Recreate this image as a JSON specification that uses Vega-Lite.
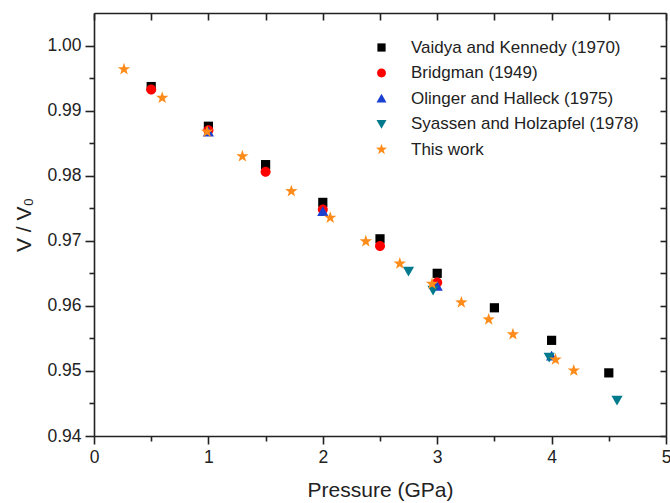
{
  "$schema": "https://vega.github.io/schema/vega-lite/v6.json",
  "width": 572,
  "height": 423,
  "autosize": {"type": "none"},
  "padding": {"left": 94, "top": 13, "right": 4, "bottom": 67},
  "background": "white",
  "config": {
    "view": {"stroke": null},
    "font": "Liberation Sans",
    "axis": {"grid": false, "domainColor": "#222", "domainWidth": 1.6, "tickColor": "#222", "tickWidth": 1.6, "labelColor": "#222", "titleColor": "#222", "labelFont": "Liberation Sans", "titleFont": "Liberation Sans", "labelFontSize": 17.5, "titleFontSize": 21, "titleFontWeight": "normal"}
  },
  "data": {"values": [
    {"src": "Vaidya and Kennedy (1970)", "p": 0.5, "v": 0.9937},
    {"src": "Vaidya and Kennedy (1970)", "p": 1.0, "v": 0.9876},
    {"src": "Vaidya and Kennedy (1970)", "p": 1.5, "v": 0.9817},
    {"src": "Vaidya and Kennedy (1970)", "p": 2.0, "v": 0.9759},
    {"src": "Vaidya and Kennedy (1970)", "p": 2.5, "v": 0.9703},
    {"src": "Vaidya and Kennedy (1970)", "p": 3.0, "v": 0.9650},
    {"src": "Vaidya and Kennedy (1970)", "p": 3.5, "v": 0.9597},
    {"src": "Vaidya and Kennedy (1970)", "p": 4.0, "v": 0.9547},
    {"src": "Vaidya and Kennedy (1970)", "p": 4.5, "v": 0.9497},
    {"src": "Bridgman (1949)", "p": 0.5, "v": 0.99325},
    {"src": "Bridgman (1949)", "p": 1.0, "v": 0.9870},
    {"src": "Bridgman (1949)", "p": 1.5, "v": 0.9806},
    {"src": "Bridgman (1949)", "p": 2.0, "v": 0.9748},
    {"src": "Bridgman (1949)", "p": 2.5, "v": 0.9692},
    {"src": "Bridgman (1949)", "p": 3.0, "v": 0.9636},
    {"src": "Olinger and Halleck (1975)", "p": 1.0, "v": 0.9867},
    {"src": "Olinger and Halleck (1975)", "p": 2.0, "v": 0.9745},
    {"src": "Olinger and Halleck (1975)", "p": 3.0, "v": 0.9630},
    {"src": "Olinger and Halleck (1975)", "p": 4.0, "v": 0.9523},
    {"src": "Syassen and Holzapfel (1978)", "p": 2.749, "v": 0.9653},
    {"src": "Syassen and Holzapfel (1978)", "p": 2.964, "v": 0.9624},
    {"src": "Syassen and Holzapfel (1978)", "p": 3.979, "v": 0.9521},
    {"src": "Syassen and Holzapfel (1978)", "p": 4.572, "v": 0.9455},
    {"src": "This work", "p": 0.262, "v": 0.99636},
    {"src": "This work", "p": 0.596, "v": 0.99196},
    {"src": "This work", "p": 0.989, "v": 0.98676},
    {"src": "This work", "p": 1.297, "v": 0.98298},
    {"src": "This work", "p": 1.725, "v": 0.97762},
    {"src": "This work", "p": 2.065, "v": 0.97354},
    {"src": "This work", "p": 2.376, "v": 0.96991},
    {"src": "This work", "p": 2.673, "v": 0.96649},
    {"src": "This work", "p": 2.955, "v": 0.96338},
    {"src": "This work", "p": 3.211, "v": 0.96052},
    {"src": "This work", "p": 3.450, "v": 0.95792},
    {"src": "This work", "p": 3.662, "v": 0.95562},
    {"src": "This work", "p": 4.034, "v": 0.95174},
    {"src": "This work", "p": 4.194, "v": 0.95006}
  ]},
  "layer": [
    {
      "mark": {"type": "point", "filled": true, "opacity": 1, "strokeWidth": 0, "size": 100},
      "encoding": {
        "x": {"field": "p", "type": "quantitative", "scale": {"domain": [0, 5], "nice": false, "zero": false},
          "axis": {"orient": "bottom", "title": "Pressure (GPa)", "values": [0, 0.5, 1, 1.5, 2, 2.5, 3, 3.5, 4, 4.5, 5],
            "labelExpr": "datum.value % 1 == 0 ? format(datum.value, 'd') : ''",
            "tickSize": {"condition": {"test": "datum.value % 1 == 0", "value": 8}, "value": 5},
            "labelPadding": 4, "titlePadding": 14, "labelFlush": false}},
        "y": {"field": "v", "type": "quantitative", "scale": {"domain": [0.94, 1.005], "nice": false, "zero": false},
          "axis": {"orient": "left", "title": "V / V₀", "values": [0.94, 0.945, 0.95, 0.955, 0.96, 0.965, 0.97, 0.975, 0.98, 0.985, 0.99, 0.995, 1.0],
            "labelExpr": "round(datum.value * 1000) % 10 == 0 ? format(datum.value, '.2f') : ''",
            "tickSize": {"condition": {"test": "round(datum.value * 1000) % 10 == 0", "value": 9}, "value": 5},
            "labelPadding": 4, "titlePadding": 12, "labelFlush": false}},
        "color": {"field": "src", "type": "nominal",
          "scale": {"domain": ["Vaidya and Kennedy (1970)", "Bridgman (1949)", "Olinger and Halleck (1975)", "Syassen and Holzapfel (1978)", "This work"],
            "range": ["#000000", "#ff0000", "#1a3fd1", "#007a8c", "#ff8c1a"]},
          "legend": {"title": null, "orient": "none", "legendX": 279, "legendY": 26, "labelFontSize": 17, "labelColor": "#222", "labelFont": "Liberation Sans", "labelOffset": 21, "labelLimit": 400, "rowPadding": 7.5, "symbolSize": 80}},
        "shape": {"field": "src", "type": "nominal",
          "scale": {"domain": ["Vaidya and Kennedy (1970)", "Bridgman (1949)", "Olinger and Halleck (1975)", "Syassen and Holzapfel (1978)", "This work"],
            "range": ["M-0.92,-0.92L0.92,-0.92L0.92,0.92L-0.92,0.92Z", "M-1,0A1,1 0 1,0 1,0A1,1 0 1,0 -1,0Z", "M0,-1.05L1.12,0.9L-1.12,0.9Z", "M0,1.05L1.12,-0.9L-1.12,-0.9Z", "M0,-1.3L0.3,-0.42L1.24,-0.4L0.49,0.16L0.76,1.05L0,0.52L-0.76,1.05L-0.49,0.16L-1.24,-0.4L-0.3,-0.42Z"]}}
      }
    },
    {
      "mark": {"type": "point", "opacity": 0},
      "encoding": {
        "x": {"field": "p", "type": "quantitative",
          "axis": {"orient": "top", "title": null, "labels": false, "values": [0, 0.5, 1, 1.5, 2, 2.5, 3, 3.5, 4, 4.5, 5], "tickSize": -7}},
        "y": {"field": "v", "type": "quantitative",
          "axis": {"orient": "right", "title": null, "labels": false, "values": [0.94, 0.945, 0.95, 0.955, 0.96, 0.965, 0.97, 0.975, 0.98, 0.985, 0.99, 0.995, 1.0], "tickSize": -6}}
      }
    }
  ]
}
